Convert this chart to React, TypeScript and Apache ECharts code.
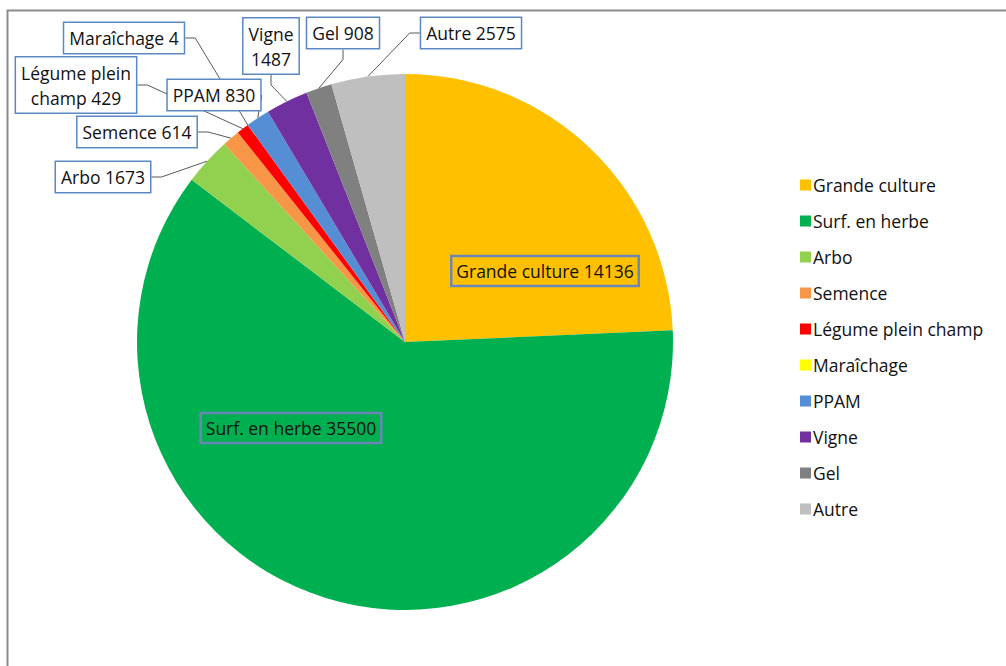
import React, { useEffect, useRef } from "react";
import * as echarts from "echarts";

const categories = [
  "Grande culture",
  "Surf. en herbe",
  "Arbo",
  "Semence",
  "Légume plein champ",
  "Maraîchage",
  "PPAM",
  "Vigne",
  "Gel",
  "Autre",
];
const values = [14136, 35500, 1673, 614, 429, 4, 830, 1487, 908, 2575];
const colors = [
  "#FFC000",
  "#00B050",
  "#92D050",
  "#F79646",
  "#FF0000",
  "#FFFF00",
  "#558ED5",
  "#7030A0",
  "#808080",
  "#BFBFBF",
];
// label texts with manual line breaks (as in the reference)
const labelBreaks: Record<string, string> = {
  "Légume plein champ": "Légume plein\nchamp",
  Vigne: "Vigne\n",
};
const insideLabels = ["Grande culture", "Surf. en herbe"];
// label box centre positions (px)
const labelPos: [number, number][] = [
  [545, 271],
  [291, 428],
  [103, 177],
  [137, 132],
  [76, 85],
  [124, 38],
  [214, 95],
  [271, 46],
  [343, 33],
  [471, 33],
];

const FONT = "'Open Sans', Lato, sans-serif";

export default function App() {
  const ref = useRef<HTMLDivElement>(null);
  useEffect(() => {
    if (!ref.current) return;
    const chart = echarts.init(ref.current, null, { renderer: "svg" });
    const data = categories.map((name, i) => {
      const inside = insideLabels.includes(name);
      return {
        name,
        value: values[i],
        itemStyle: { color: colors[i] },
        label: inside
          ? {
              position: "inside",
              backgroundColor: "transparent",
              borderColor: "#6A86B8",
              borderWidth: 1.2,
            }
          : { position: "outside" },
        labelLine: { show: !inside },
      };
    });
    chart.setOption({
      animation: false,
      backgroundColor: "#ffffff",
      graphic: [
        {
          type: "rect",
          shape: { x: 7.5, y: 10.5, width: 1100, height: 800 },
          style: { fill: "none", stroke: "#8c8c8c", lineWidth: 2 },
          silent: true,
        },
      ],
      legend: {
        orient: "vertical",
        left: 795,
        top: 171,
        itemWidth: 11,
        itemHeight: 11,
        itemGap: 18,
        icon: "rect",
        textStyle: {
          fontFamily: FONT,
          fontSize: 17.5,
          lineHeight: 17,
          color: "#111111",
          padding: [0, 0, 0, -3],
        },
        data: categories,
      },
      series: [
        {
          type: "pie",
          center: [405, 342],
          radius: 268,
          startAngle: 90,
          clockwise: true,
          avoidLabelOverlap: false,
          itemStyle: { borderWidth: 0 },
          label: {
            show: true,
            formatter: (p: any) =>
              `${labelBreaks[p.name] ?? p.name} ${p.value}`.replace("\n ", "\n"),
            fontFamily: FONT,
            fontSize: 17.5,
            lineHeight: 25,
            color: "#111111",
            backgroundColor: "#ffffff",
            borderColor: "#5B87C5",
            borderWidth: 1.5,
            padding: [3, 5, 2, 5],
            align: "center",
          },
          labelLine: {
            show: true,
            lineStyle: { color: "#595959", width: 1 },
            length: 10,
            length2: 10,
          },
          labelLayout: (params: any) => {
            const [x, y] = labelPos[params.dataIndex];
            return { x, y, align: "center", verticalAlign: "middle" };
          },
          emphasis: { disabled: true },
          data,
        },
      ],
    });
    return () => chart.dispose();
  }, []);
  return (
    <div
      ref={ref}
      style={{ position: "absolute", left: 0, top: 0, width: 1006, height: 666 }}
    />
  );
}
